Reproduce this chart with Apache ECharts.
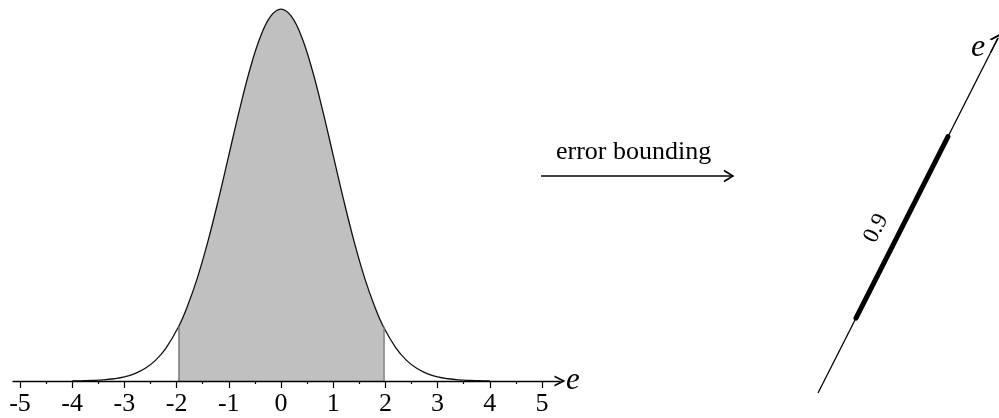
<!DOCTYPE html>
<html>
<head>
<meta charset="utf-8">
<script src="https://cdn.jsdelivr.net/npm/echarts@6/dist/echarts.min.js"></script>
<style>
html, body { margin: 0; padding: 0; background: #fff; }
#main { width: 999px; height: 418px; }
</style>
</head>
<body>
<div id="main"></div>
<script>
// error density curve
var curveX = [-4, -3.8, -3.6, -3.4, -3.2, -3, -2.8, -2.6, -2.4, -2.2, -1.96, -1.8, -1.6, -1.4, -1.2, -1, -0.8, -0.6, -0.4, -0.2,
    0, 0.2, 0.4, 0.6, 0.8, 1, 1.2, 1.4, 1.6, 1.8, 1.96, 2.2, 2.4, 2.6, 2.8, 3, 3.2, 3.4, 3.6, 3.8, 4];
var curveY = [0.0001, 0.0003, 0.0006, 0.0012, 0.0024, 0.0044, 0.0079, 0.0136, 0.0224, 0.0355, 0.0584, 0.079, 0.1109, 0.1497, 0.1942, 0.242, 0.2897, 0.3332, 0.3683, 0.391,
    0.3989, 0.391, 0.3683, 0.3332, 0.2897, 0.242, 0.1942, 0.1497, 0.1109, 0.079, 0.0584, 0.0355, 0.0224, 0.0136, 0.0079, 0.0044, 0.0024, 0.0012, 0.0006, 0.0003, 0.0001];
var bound = [-1.96, 1.96];
var majorTicks = [-5, -4, -3, -2, -1, 0, 1, 2, 3, 4, 5];
var minorTicks = [-4.5, -3.5, -2.5, -1.5, -0.5, 0.5, 1.5, 2.5, 3.5, 4.5];
var axisName = 'e';
// right hand side: bounded interval along the e axis
var lineT = [0, 1];
var boundT = [0.211, 0.722];
var boundText = '0.9';
var boundTextAt = 0.435;
var arrowText = 'error bounding';

var serif = 'Liberation Serif';
var chevron = 'path://M0,10 L5,0 L10,10 L8.3,10 L5,3.4 L1.7,10 Z';

var curvePts = [];
var shadePts = [];
for (var i = 0; i < curveX.length; i++) {
    curvePts.push([curveX[i], curveY[i]]);
    if (curveX[i] >= bound[0] && curveX[i] <= bound[1]) {
        shadePts.push([curveX[i], curveY[i]]);
    }
}
var yLow = curveY[curveX.indexOf(bound[0])];
var yHigh = curveY[curveX.indexOf(bound[1])];

var myChart = echarts.init(document.getElementById('main'));
var option = {
    animation: false,
    backgroundColor: '#fff',
    grid: [
        {left: 13, top: 8, width: 547, height: 373, outerBoundsMode: 'none'},
        {left: 818, top: 38, width: 180, height: 355, outerBoundsMode: 'none'}
    ],
    xAxis: [{
        gridIndex: 0, type: 'value', min: -5.134, max: 5.345, position: 'bottom', z: 5,
        name: axisName, nameLocation: 'end', nameGap: 6,
        nameTextStyle: {fontFamily: serif, fontStyle: 'italic', fontSize: 31, color: '#000', verticalAlign: 'middle', padding: [0, 0, 6, 0]},
        axisLine: {show: true, onZero: false, symbol: ['none', chevron], symbolSize: [16, 11], lineStyle: {color: '#000', width: 1.3}},
        axisTick: {show: true, length: 7, customValues: majorTicks, lineStyle: {color: '#000', width: 1.2}},
        axisLabel: {show: true, customValues: majorTicks, margin: 10, fontFamily: serif, fontSize: 26, color: '#000'},
        splitLine: {show: false}
    }, {
        gridIndex: 0, type: 'value', min: -5.134, max: 5.345, position: 'bottom', z: 5,
        axisLine: {show: false},
        axisTick: {show: true, length: 3, customValues: minorTicks, lineStyle: {color: '#000', width: 1.2}},
        axisLabel: {show: false},
        splitLine: {show: false}
    }, {
        gridIndex: 1, type: 'value', min: 0, max: 1, show: false
    }],
    yAxis: [
        {gridIndex: 0, type: 'value', min: 0, max: 0.4, show: false},
        {gridIndex: 1, type: 'value', min: 0, max: 1, show: false}
    ],
    series: [{
        name: 'shade', type: 'line', xAxisIndex: 0, yAxisIndex: 0,
        data: shadePts, smooth: 0.4, symbol: 'none', z: 2,
        lineStyle: {width: 0},
        areaStyle: {color: '#c0c0c0', opacity: 1},
        markLine: {
            silent: true, symbol: 'none', label: {show: false},
            lineStyle: {color: '#7a7a7a', width: 1.5, type: 'solid'},
            data: [
                [{coord: [bound[0], 0]}, {coord: [bound[0], yLow]}],
                [{coord: [bound[1], 0]}, {coord: [bound[1], yHigh]}]
            ]
        }
    }, {
        name: 'curve', type: 'line', xAxisIndex: 0, yAxisIndex: 0,
        data: curvePts, smooth: 0.4, symbol: 'none', z: 3,
        lineStyle: {color: '#111', width: 1.3}
    }, {
        name: 'eAxis', type: 'line', xAxisIndex: 2, yAxisIndex: 1,
        data: [[lineT[0], lineT[0]], [lineT[1], lineT[1]]], symbol: 'none',
        lineStyle: {color: '#000', width: 1.3},
        markLine: {
            silent: true, symbol: 'none', label: {show: false},
            lineStyle: {color: '#000', width: 1.3, type: 'solid'},
            data: [
                [{coord: [0.96, 0.96]}, {coord: [lineT[1], lineT[1]], symbol: chevron, symbolSize: [14, 10]}],
                [{coord: [boundT[0], boundT[0]], lineStyle: {width: 5, color: '#000', type: 'solid', cap: 'round'}},
                 {coord: [boundT[1], boundT[1]]}],
                [{coord: [boundT[0], boundT[0]], lineStyle: {width: 0},
                  label: {show: true, formatter: boundText, position: 'insideMiddleTop', distance: 11, opacity: 1,
                          fontFamily: serif, fontSize: 23, color: '#000'}},
                 {coord: [2 * boundTextAt - boundT[0], 2 * boundTextAt - boundT[0]]}]
            ]
        }
    }],
    graphic: [
        {type: 'text', left: 556, top: 139, style: {text: arrowText, font: '26px "Liberation Serif"', fill: '#000'}},
        {type: 'line', shape: {x1: 541, y1: 176, x2: 733, y2: 176}, style: {stroke: '#000', lineWidth: 1.5}},
        {type: 'polyline', shape: {points: [[724, 170.5], [733, 176], [724, 181.5]]}, style: {stroke: '#000', lineWidth: 1.6, fill: null}},
        {type: 'text', left: 971, top: 32, style: {text: axisName, font: 'italic 32px "Liberation Serif"', fill: '#000'}}
    ]
};
myChart.setOption(option);
</script>
</body>
</html>
